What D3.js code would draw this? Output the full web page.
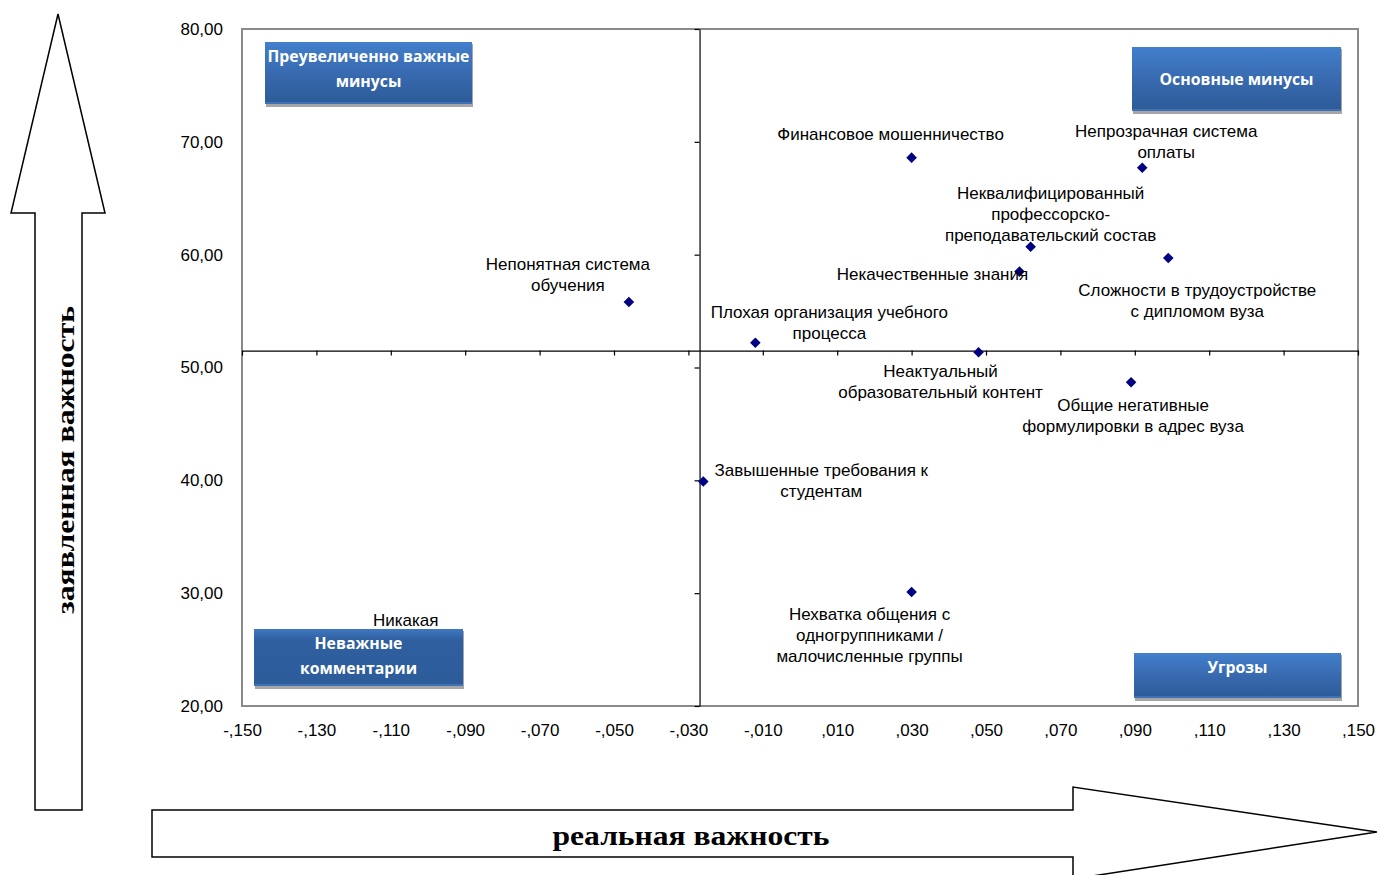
<!DOCTYPE html>
<html>
<head>
<meta charset="utf-8">
<script src="https://cdn.jsdelivr.net/npm/d3@7/dist/d3.min.js"></script>
<style>
  html, body { margin: 0; padding: 0; background: #fff; }
  svg { display: block; }
</style>
</head>
<body>
<svg id="chart" width="1377" height="875"></svg>
<script>
// Problem statements (categories)
const categories = [
  "Непонятная система обучения",
  "Плохая организация учебного процесса",
  "Финансовое мошенничество",
  "Неактуальный образовательный контент",
  "Некачественные знания",
  "Неквалифицированный профессорско-преподавательский состав",
  "Непрозрачная система оплаты",
  "Сложности в трудоустройстве с дипломом вуза",
  "Общие негативные формулировки в адрес вуза",
  "Завышенные требования к студентам",
  "Нехватка общения с одногруппниками / малочисленные группы",
  "Никакая"
];
// real importance (x) and declared importance (y)
const realImportance = [-0.046, -0.012, 0.030, 0.048, 0.059, 0.062, 0.092, 0.099, 0.089, -0.026, 0.030, -0.106];
const declaredImportance = [55.8, 52.2, 68.6, 51.35, 58.5, 60.7, 67.7, 59.7, 48.7, 39.9, 30.1, 25.4];
// wrapped label lines for each point
const labelLines = [
  ["Непонятная система", "обучения"],
  ["Плохая организация учебного", "процесса"],
  ["Финансовое мошенничество"],
  ["Неактуальный", "образовательный контент"],
  ["Некачественные знания"],
  ["Неквалифицированный", "профессорско-", "преподавательский состав"],
  ["Непрозрачная система", "оплаты"],
  ["Сложности в трудоустройстве", "с дипломом вуза"],
  ["Общие негативные", "формулировки в адрес вуза"],
  ["Завышенные требования к", "студентам"],
  ["Нехватка общения с", "одногруппниками /", "малочисленные группы"],
  ["Никакая"]
];
// axis ticks and quadrant crossing
const xTicks = [-0.15, -0.13, -0.11, -0.09, -0.07, -0.05, -0.03, -0.01, 0.01, 0.03, 0.05, 0.07, 0.09, 0.11, 0.13, 0.15];
const yTicks = [20, 30, 40, 50, 60, 70, 80];
const xCross = -0.027;
const yCross = 51.5;
const quadrantTitles = [["Преувеличенно важные", "минусы"], ["Основные минусы"], ["Неважные", "комментарии"], ["Угрозы"]];
const xAxisTitle = "реальная важность";
const yAxisTitle = "заявленная важность";

// ---- layout ----
const plot = { left: 242, right: 1358, top: 29, bottom: 706 };
// label offsets from the marker (pixels): centre x, first line centre y
const labelOffsets = [
  [-61, -38], [74, -31], [-21, -24], [-38, 19], [-87, 2], [20, -54],
  [24, -37], [29, 32], [2, 23], [118, -11], [-42, 22], [0, -25]
];
// quadrant title boxes in pixels
const boxLayout = [
  { x: 265, y: 42, w: 207, h: 62, lines: [56, 81] },
  { x: 1132, y: 47, w: 209, h: 64, lines: [79] },
  { x: 254, y: 629, w: 209, h: 57, lines: [643, 668], flat: true },
  { x: 1134, y: 653, w: 207, h: 45, lines: [667] }
];

const svg = d3.select("#chart");
const x = d3.scaleLinear().domain([-0.15, 0.15]).range([plot.left, plot.right]);
const y = d3.scaleLinear().domain([20, 80]).range([plot.bottom, plot.top]);

const defs = svg.append("defs");
const grad = defs.append("linearGradient").attr("id", "boxGrad").attr("x1", 0).attr("y1", 0).attr("x2", 0).attr("y2", 1);
grad.append("stop").attr("offset", "0%").attr("stop-color", "#427fcc");
grad.append("stop").attr("offset", "55%").attr("stop-color", "#3768ad");
grad.append("stop").attr("offset", "100%").attr("stop-color", "#2d5b98");
const grad2 = defs.append("linearGradient").attr("id", "boxGradFlat").attr("x1", 0).attr("y1", 0).attr("x2", 0).attr("y2", 1);
grad2.append("stop").attr("offset", "0%").attr("stop-color", "#3f78c0");
grad2.append("stop").attr("offset", "20%").attr("stop-color", "#2f5f9f");
grad2.append("stop").attr("offset", "100%").attr("stop-color", "#2d5c9b");

// ---- direction arrows ----
svg.append("path")
  .attr("d", "M35,810 L35,213 L11,213 L58,14 L105,213 L82,213 L82,810 Z")
  .attr("fill", "#fff").attr("stroke", "#000").attr("stroke-width", 1.5);
svg.append("path")
  .attr("d", "M152,810 L1073,810 L1073,787 L1377,832 L1073,879 L1073,857 L152,857 Z")
  .attr("fill", "#fff").attr("stroke", "#000").attr("stroke-width", 1.5);

svg.append("text")
  .attr("transform", "translate(74,460) rotate(-90)")
  .attr("text-anchor", "middle")
  .attr("font-family", "Liberation Serif, serif")
  .attr("font-weight", "bold")
  .attr("font-size", 26)
  .attr("textLength", 308).attr("lengthAdjust", "spacingAndGlyphs")
  .text(yAxisTitle);
svg.append("text")
  .attr("x", 691).attr("y", 845)
  .attr("text-anchor", "middle")
  .attr("font-family", "Liberation Serif, serif")
  .attr("font-weight", "bold")
  .attr("font-size", 27)
  .attr("textLength", 277).attr("lengthAdjust", "spacingAndGlyphs")
  .text(xAxisTitle);

// ---- plot frame ----
svg.append("rect")
  .attr("x", plot.left).attr("y", plot.top)
  .attr("width", plot.right - plot.left).attr("height", plot.bottom - plot.top)
  .attr("fill", "none").attr("stroke", "#8a8a8a").attr("stroke-width", 2);

// tick labels along the frame
const yFmt = d => d3.format(".2f")(d).replace(".", ",");
const xFmt = d => (d < 0 ? "-" : "") + "," + d3.format("03d")(Math.round(Math.abs(d) * 1000));

const yAxisLab = svg.append("g").attr("transform", `translate(${plot.left},0)`)
  .call(d3.axisLeft(y).tickValues(yTicks).tickFormat(yFmt).tickSize(0).tickPadding(19));
const xAxisLab = svg.append("g").attr("transform", `translate(0,${plot.bottom})`)
  .call(d3.axisBottom(x).tickValues(xTicks).tickFormat(xFmt).tickSize(0).tickPadding(18));
[yAxisLab, xAxisLab].forEach(g => {
  g.select(".domain").remove();
  g.selectAll("text").attr("font-family", "Liberation Sans, Arial, sans-serif").attr("font-size", 17).attr("fill", "#000");
});

// ---- crossing axes ----
const hAxis = svg.append("g").attr("transform", `translate(0,${y(yCross)})`)
  .call(d3.axisBottom(x).tickValues(xTicks).tickFormat("").tickSizeInner(5).tickSizeOuter(0));
const vAxis = svg.append("g").attr("transform", `translate(${x(xCross)},0)`)
  .call(d3.axisLeft(y).tickValues(yTicks).tickFormat("").tickSizeInner(5).tickSizeOuter(0));
[hAxis, vAxis].forEach(g => {
  g.selectAll("path, line").attr("stroke", "#000").attr("stroke-width", 1.2);
});

// ---- points ----
const pts = categories.map((c, i) => ({ name: c, rx: realImportance[i], dy: declaredImportance[i], lines: labelLines[i], off: labelOffsets[i] }));
const diamond = d3.symbol().type(d3.symbolSquare).size(56);
svg.append("g").selectAll("path").data(pts).join("path")
  .attr("d", diamond)
  .attr("transform", d => `translate(${x(d.rx)},${y(d.dy)}) rotate(45)`)
  .attr("fill", "#000080");

const lbl = svg.append("g")
  .attr("font-family", "Liberation Sans, Arial, sans-serif")
  .attr("font-size", 17).attr("fill", "#000").attr("text-anchor", "middle");
pts.forEach(d => {
  const cx = x(d.rx) + d.off[0];
  const cy = y(d.dy) + d.off[1];
  const t = lbl.append("text");
  d.lines.forEach((ln, j) => {
    t.append("tspan").attr("x", cx).attr("y", cy + j * 21).attr("dy", "0.35em").text(ln);
  });
});

// ---- quadrant title boxes ----
boxLayout.forEach((b, i) => {
  const g = svg.append("g");
  g.append("rect").attr("x", b.x + 1).attr("y", b.y + 2).attr("width", b.w).attr("height", b.h + 1)
    .attr("fill", "#a6a6a6");
  g.append("rect").attr("x", b.x).attr("y", b.y).attr("width", b.w).attr("height", b.h)
    .attr("fill", b.flat ? "url(#boxGradFlat)" : "url(#boxGrad)");
  g.append("rect").attr("x", b.x).attr("y", b.y + b.h - 2).attr("width", b.w).attr("height", 2)
    .attr("fill", "#4a80c4").attr("opacity", 0.6);
  quadrantTitles[i].forEach((ln, j) => {
    g.append("text")
      .attr("x", b.x + b.w / 2).attr("y", b.lines[j]).attr("dy", "0.35em")
      .attr("text-anchor", "middle")
      .attr("font-family", "Open Sans, Noto Sans, sans-serif")
      .attr("font-weight", "bold").attr("font-size", 15.8)
      .attr("fill", "#fff")
      .text(ln);
  });
});
</script>
</body>
</html>
